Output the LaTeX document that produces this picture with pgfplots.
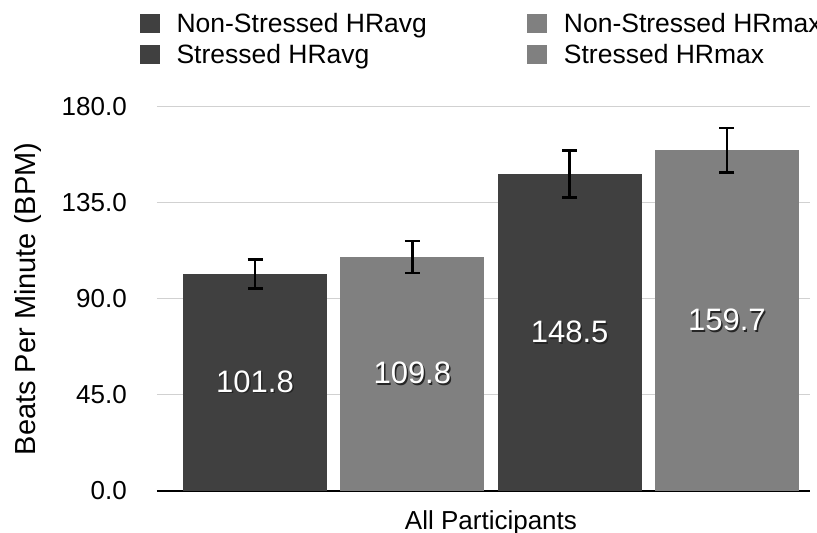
\documentclass[border=0pt]{standalone}
\usepackage{pgfplots}
\pgfplotsset{compat=1.18}
\usepackage{fontspec}
\setmainfont{Liberation Sans}
\definecolor{darkbar}{HTML}{404040}
\definecolor{lightbar}{HTML}{808080}
\newcommand\shadowtext[1]{\makebox[0pt][l]{\hspace{1.5pt}\raisebox{-1.5pt}{\color{black!85}#1}}{\color{white}#1}}
\begin{document}
\begin{tikzpicture}
\begin{axis}[
  at={(157pt,42pt)}, anchor=south west,
  scale only axis, width=653pt, height=384pt,
  xmin=-0.623, xmax=3.528, ymin=0, ymax=180,
  ybar, bar width=0.915, bar shift=0pt,
  legend image code/.code={\fill[#1] (0pt,-9.5pt) rectangle (20pt,9.5pt);},
  ytick={0,45,90,135,180},
  xtick={1.5}, xticklabels={All Participants},
  major tick length=0pt,
  ymajorgrids, grid style={line width=1pt, black!18},
  axis x line=bottom, axis y line=left, axis line style={-},
  y axis line style={draw=none},
  x axis line style={line width=1.5pt, black},
  tick label style={font=\fontsize{26}{31}\selectfont, inner sep=0pt},
  y tick label style={/pgf/number format/.cd, fixed, fixed zerofill, precision=1, assume math mode=true, /tikz/.cd, anchor=east, xshift=-30pt},
  x tick label style={anchor=north, yshift=-19pt},
  ylabel={Beats Per Minute (BPM)},
  every axis y label/.style={at={(axis description cs:-0.1975,0.5)}, anchor=center, rotate=90, font=\fontsize{29}{34}\selectfont},
  legend columns=2,
  legend style={at={(axis description cs:-0.027,1.245)}, anchor=north west, draw=none, fill=none,
    font=\fontsize{26.5}{31}\selectfont, inner sep=0pt,
    nodes={inner sep=0pt},
    /tikz/every odd column/.append style={column sep=17pt},
    /tikz/every even column/.append style={column sep=100pt},
    row sep=10pt},
  legend cell align=left,
  nodes near coords={\shadowtext{\pgfmathprintnumber[fixed,fixed zerofill,precision=1,assume math mode=true]{\pgfplotspointmeta}}},
  visualization depends on={y \as \rawy},
  every node near coord/.append style={anchor=center, shift={(axis direction cs:0,-\rawy/2)}, font=\fontsize{31}{36}\selectfont},
  error bars/y dir=both, error bars/y explicit,
  error bars/error bar style={line width=2.5pt, black},
  error bars/error mark options={rotate=90, mark size=7.5pt, line width=2.5pt, black},
]
\addplot[fill=darkbar, draw=none] coordinates {(0,101.8) +- (0,6.8)};
\addplot[fill=lightbar, draw=none] coordinates {(1,109.8) +- (0,7.5)};
\addplot[fill=darkbar, draw=none] coordinates {(2,148.5) +- (0,11.0)};
\addplot[fill=lightbar, draw=none] coordinates {(3,159.7) +- (0,10.5)};
\legend{Non-Stressed HRavg, Non-Stressed HRmax, Stressed HRavg, Stressed HRmax}
\end{axis}
\pgfresetboundingbox
\path (0,0) rectangle (817pt,533pt);
\end{tikzpicture}
\end{document}
